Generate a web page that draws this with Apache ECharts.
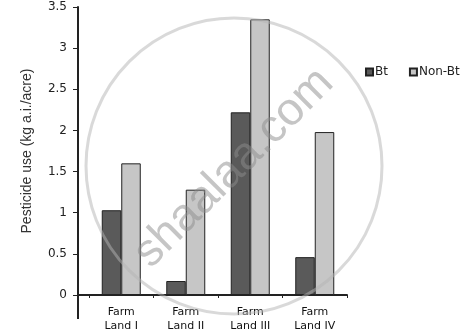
<!DOCTYPE html>
<html>
<head>
<meta charset="utf-8">
<script src="https://cdn.jsdelivr.net/npm/echarts@6/dist/echarts.min.js"></script>
<style>
html,body{margin:0;padding:0;background:#fff;}
#chart{width:467px;height:334px;}
</style>
</head>
<body>
<div id="chart"></div>
<script>
var categories = ['Farm\nLand I', 'Farm\nLand II', 'Farm\nLand III', 'Farm\nLand IV'];
var btValues = [1.03, 0.17, 2.22, 0.46];
var nonBtValues = [1.60, 1.28, 3.35, 1.98];
var seriesNames = ['Bt', 'Non-Bt'];
var yTicks = [0, 0.5, 1, 1.5, 2, 2.5, 3, 3.5];
var yAxisTitle = 'Pesticide use (kg a.i./acre)';
var watermarkText = 'shaalaa.com';

var chart = echarts.init(document.getElementById('chart'), null, {renderer: 'canvas'});

var gridLeft = 89, gridRight = 120, gridTop = 7, gridBottom = 39;

var option = {
  animation: false,
  backgroundColor: '#fff',
  grid: {left: gridLeft, right: gridRight, top: gridTop, bottom: gridBottom},
  legend: {
    data: seriesNames,
    left: 360,
    top: 61,
    icon: 'rect',
    itemWidth: 7,
    itemHeight: 7,
    itemGap: 21,
    textStyle: {fontFamily: 'DejaVu Sans', fontSize: 12, color: '#222', padding: [0, 0, 0, -3]}
  },
  xAxis: {
    type: 'category',
    data: categories,
    boundaryGap: true,
    axisLine: {show: true, lineStyle: {color: '#222', width: 2}},
    axisTick: {show: true, length: 3, lineStyle: {color: '#222', width: 1}},
    axisLabel: {fontFamily: 'DejaVu Sans', fontSize: 11, color: '#111', lineHeight: 14, margin: 10}
  },
  yAxis: {
    type: 'value',
    min: yTicks[0],
    max: yTicks[yTicks.length - 1],
    interval: 0.5,
    offset: 11,
    name: yAxisTitle,
    nameLocation: 'middle',
    nameGap: 44,
    nameTextStyle: {fontFamily: 'Liberation Sans', fontSize: 14, color: '#333'},
    splitLine: {show: false},
    axisLine: {show: true, lineStyle: {color: '#222', width: 2}},
    axisTick: {show: true, length: 5, lineStyle: {color: '#222', width: 1}},
    axisLabel: {fontFamily: 'DejaVu Sans', fontSize: 12, color: '#222', margin: 11}
  },
  series: [
    {
      name: seriesNames[0],
      type: 'bar',
      data: btValues,
      barWidth: 19.5,
      barGap: '0%',
      itemStyle: {color: '#5a5a5a', borderColor: '#222', borderWidth: 1}
    },
    {
      name: seriesNames[1],
      type: 'bar',
      data: nonBtValues,
      barWidth: 19.5,
      barGap: '0%',
      itemStyle: {color: '#c6c6c6', borderColor: '#222', borderWidth: 1}
    }
  ],
  graphic: [
    {type: 'line', z: 10, shape: {x1: 78, y1: 295, x2: 78, y2: 319}, style: {stroke: '#222', lineWidth: 2}},
    {type: 'line', z: 10, shape: {x1: 77, y1: 295, x2: 90, y2: 295}, style: {stroke: '#222', lineWidth: 2}},
    {type: 'circle', z: 100, silent: true, shape: {cx: 234, cy: 166, r: 148}, style: {fill: null, stroke: 'rgba(180,180,180,0.5)', lineWidth: 3}},
    {type: 'text', z: 100, silent: true, x: 234, y: 168, rotation: Math.PI / 4,
     style: {text: watermarkText, font: '46px "Liberation Sans"', fill: 'rgba(140,140,140,0.5)', textAlign: 'center', textVerticalAlign: 'middle'}}
  ]
};
chart.setOption(option);
</script>
</body>
</html>
